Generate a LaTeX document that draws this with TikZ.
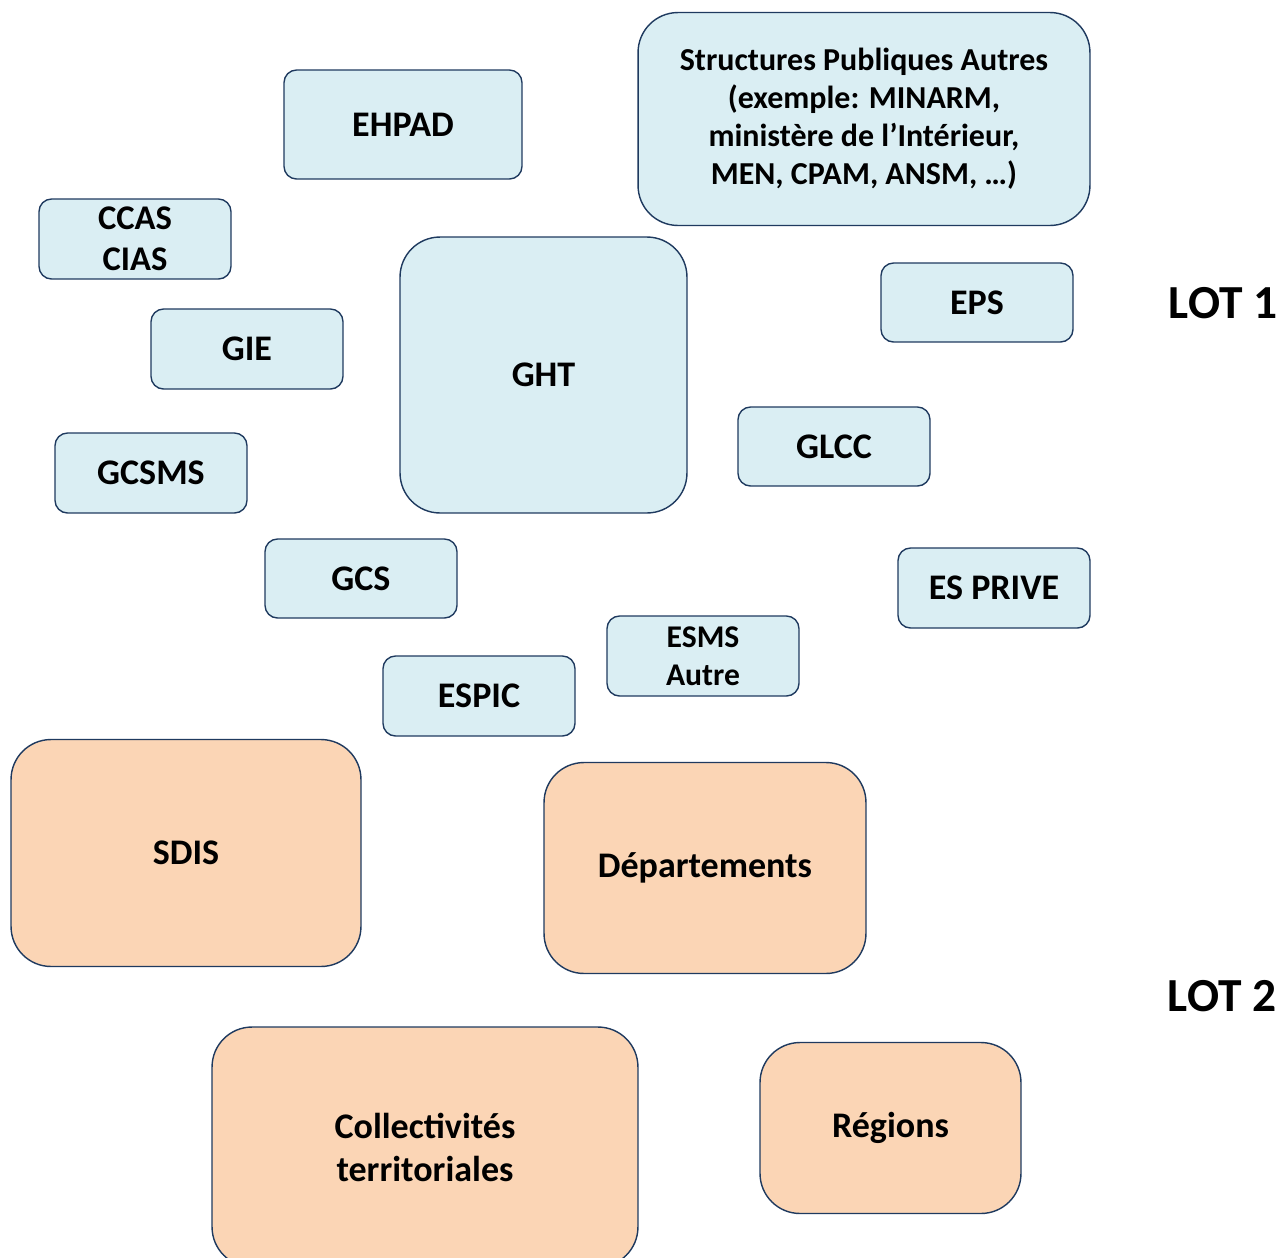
\documentclass[tikz,border=0pt]{standalone}
\usepackage{fontspec}
\setmainfont{Carlito}
\usetikzlibrary{positioning}
\definecolor{lotblue}{HTML}{DAEEF3}
\definecolor{lotpeach}{HTML}{FBD5B5}
\definecolor{edgenavy}{HTML}{1F3A5F}
\tikzset{
  org/.style 2 args={draw=edgenavy,line width=0.8pt,rounded corners=0.25cm,
    minimum width=#1,minimum height=#2,inner sep=0pt,align=center,
    font=\fontsize{20.5}{24.5}\selectfont\bfseries},
  lotone/.style 2 args={org={#1}{#2},fill=lotblue},
  lottwo/.style 2 args={org={#1}{#2},fill=lotpeach,rounded corners=0.8cm},
  lotlabel/.style={font=\fontsize{27}{31}\selectfont\bfseries}
}
\begin{document}
\begin{tikzpicture}[x=0.02cm,y=-0.02cm]
\useasboundingbox (0,0) rectangle (1279,1258);
\begin{scope}
\clip (0,0) rectangle (1279,1258);
% lot 1
\node [lotone={4.76cm}{2.18cm}] (ehpad) at (403,124.5) {EHPAD};
\node [lotone={9.04cm}{4.26cm},rounded corners=0.8cm,
  font=\fontsize{18.2}{21.7}\selectfont\bfseries] (autres) at (864,119)
  {Structures Publiques Autres\\(exemple: MINARM,\\ministère de l’Intérieur,\\MEN, CPAM, ANSM, …)};
\node [lotone={3.84cm}{1.6cm},font=\fontsize{19.7}{23.2}\selectfont\bfseries] (ccas) at (135,239) {CCAS\\CIAS};
\node [lotone={5.74cm}{5.52cm},rounded corners=0.8cm] (ght) at (543.5,375) {GHT};
\node [lotone={3.84cm}{1.58cm}] (eps) at (977,302.5) {EPS};
\node [lotone={3.84cm}{1.6cm}] (gie) at (247,349) {GIE};
\node [lotone={3.84cm}{1.58cm}] (glcc) at (834,446.5) {GLCC};
\node [lotone={3.84cm}{1.6cm}] (gcsms) at (151,473) {GCSMS};
\node [lotone={3.84cm}{1.58cm}] (gcs) at (361,578.5) {GCS};
\node [lotone={3.84cm}{1.6cm}] (esprive) at (994,588) {ES PRIVE};
\node [lotone={3.84cm}{1.6cm},font=\fontsize{18}{21.5}\selectfont\bfseries] (esms) at (703,656) {ESMS\\Autre};
\node [lotone={3.84cm}{1.6cm}] (espic) at (479,696) {ESPIC};
% lot 2
\node [lottwo={7cm}{4.54cm}] (sdis) at (186,853) {SDIS};
\node [lottwo={6.44cm}{4.22cm}] (dep) at (705,868) {Départements};
\node [lottwo={8.52cm}{4.8cm}] (coll) at (425,1147) {Collectivités\\territoriales};
\node [lottwo={5.22cm}{3.42cm}] (reg) at (890.5,1128) {Régions};
\end{scope}
\node [lotlabel] (lot1) at (1223,303) {LOT 1};
\node [lotlabel] (lot2) at (1222,996) {LOT 2};
\end{tikzpicture}
\end{document}
